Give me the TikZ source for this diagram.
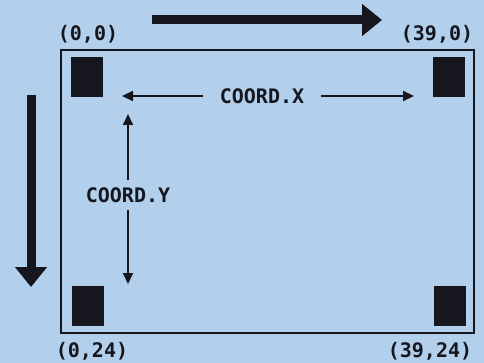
\documentclass[tikz,border=0pt]{standalone}
\usepackage{fontspec}
\setmonofont{DejaVu Sans Mono}
\usetikzlibrary{arrows.meta}
\definecolor{screen}{RGB}{178,208,236}
\definecolor{ink}{RGB}{22,22,30}

\begin{document}
\begin{tikzpicture}[x=1pt,y=-1pt,line cap=butt]
	\tikzstyle{lbl}=[inner sep=0pt,font=\ttfamily\bfseries\fontsize{20}{20}\selectfont,text=ink];
	\tikzstyle{pix}=[fill=ink,draw=none,inner sep=0pt,minimum width=32pt,minimum height=40pt];
	\tikzstyle{guide}=[draw=ink,line width=2pt,-{Triangle[length=11pt,width=10pt]}];
	\tikzstyle{bigarrow}=[draw=ink,line width=9pt,-{Triangle[length=20pt,width=31pt]}];
	%% screen
	\fill[screen] (0,0) rectangle (484,363);
	\useasboundingbox (0,0) rectangle (484,363);
	\node[draw=ink,line width=2pt,minimum width=413pt,minimum height=283pt,inner sep=0pt] (F) at (267.5,191.5) {};
	%% corner blocks
	\node[pix] (A) at (87,77)  {};
	\node[pix] (B) at (449,77) {};
	\node[pix] (C) at (88,306) {};
	\node[pix] (D) at (450,306) {};
	%% corner labels
	\node[lbl] (a) at (88,34)   {(0,0)};
	\node[lbl] (b) at (437,34)  {(39,0)};
	\node[lbl] (c) at (92,351)  {(0,24)};
	\node[lbl] (d) at (430,351) {(39,24)};
	%% axis labels
	\node[lbl,inner xsep=17pt] (X) at (262,96)  {COORD.X};
	\node[lbl,inner ysep=7pt]  (Y) at (128,195) {COORD.Y};
	%% direction arrows
	\coordinate (x0) at (152,20);
	\coordinate (x1) at (382,20);
	\coordinate (y0) at (31,95);
	\coordinate (y1) at (31,287);
	\draw[bigarrow] (x0) -- (x1);
	\draw[bigarrow] (y0) -- (y1);
	%% coordinate arrows
	\coordinate (xl) at (122,96);
	\coordinate (xr) at (414,96);
	\coordinate (yt) at (128,114);
	\coordinate (yb) at (128,284);
	\draw[guide] (X) -- (xl);
	\draw[guide] (X) -- (xr);
	\draw[guide] (Y) -- (yt);
	\draw[guide] (Y) -- (yb);
\end{tikzpicture}
\end{document}
